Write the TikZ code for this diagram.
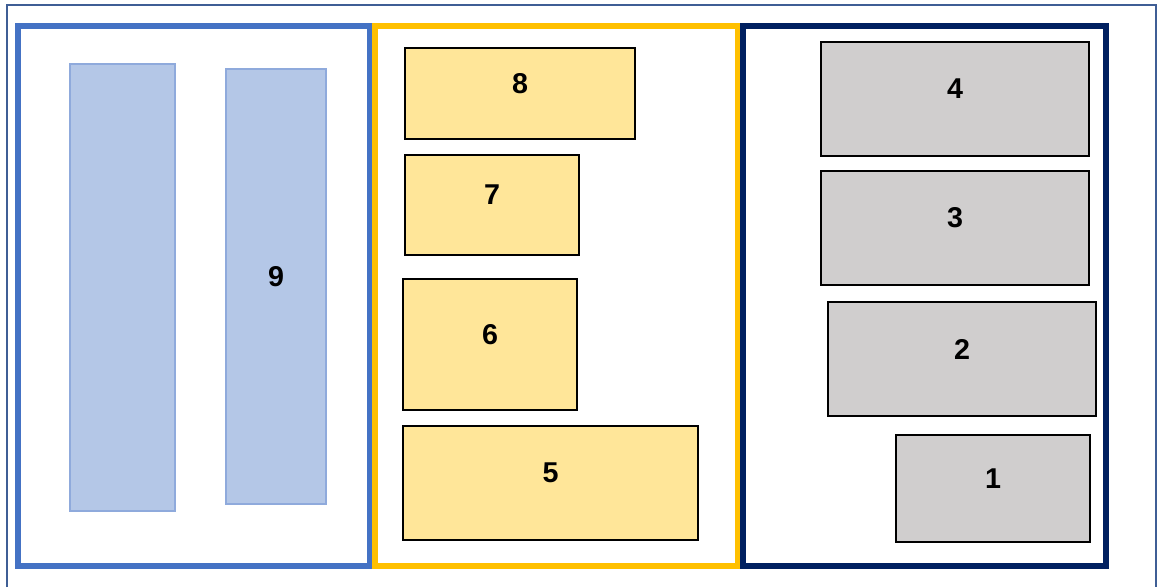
\documentclass[tikz,border=0pt]{standalone}
\usepackage{fontspec}
\setmainfont{Liberation Sans}
\usetikzlibrary{fit}
\definecolor{framecol}{HTML}{3F5E95}
\definecolor{bluecol}{HTML}{4472C4}
\definecolor{goldcol}{HTML}{FFC000}
\definecolor{navycol}{HTML}{002060}
\definecolor{barfill}{HTML}{B4C7E7}
\definecolor{barline}{HTML}{8FAADC}
\definecolor{goldfill}{HTML}{FFE699}
\definecolor{greyfill}{HTML}{D0CECE}

\begin{document}
\begin{tikzpicture}[
    x=0.75pt,y=-0.75pt,
    panel/.style={draw,line width=4.5pt,inner sep=0pt},
    bar/.style={draw=barline,fill=barfill,line width=1.5pt,inner sep=0pt},
    gbox/.style={draw=black,fill=goldfill,line width=1.5pt,inner sep=0pt},
    sbox/.style={draw=black,fill=greyfill,line width=1.5pt,inner sep=0pt},
    num/.style={font=\fontsize{21.5}{26}\selectfont\bfseries,inner sep=0pt}
  ]
    \useasboundingbox (0,0) rectangle (1157,587);
    \draw[framecol,line width=1.5pt] (7,587) |- (1156,5) -- (1156,587);

    % three panels
    \node[panel,draw=bluecol,fit={(18,26) (369.5,566)}] (P1) {};
    \node[panel,draw=goldcol,fit={(375,26) (737.5,566)}] (P2) {};
    \node[panel,draw=navycol,fit={(743,26) (1106,566)}] (P3) {};

    % left panel
    \node[bar,fit={(70,64) (175,511)}] (B10) {};
    \node[bar,fit={(226,69) (326,504)}] (B9) {};
    \node[num] (L9) at ([yshift=7.5pt]B9.center) {9};

    % middle panel
    \node[gbox,fit={(405,48) (635,139)}] (B8) {};
    \node[gbox,fit={(405,155) (579,255)}] (B7) {};
    \node[gbox,fit={(403,279) (577,410)}] (B6) {};
    \node[gbox,fit={(403,426) (698,540)}] (B5) {};
    \foreach \n in {8,7,6,5}
      \node[num] (L\n) at ([yshift=7.5pt]B\n.center) {\n};

    % right panel
    \node[sbox,fit={(821,42) (1089,156)}] (B4) {};
    \node[sbox,fit={(821,171) (1089,285)}] (B3) {};
    \node[sbox,fit={(828,302) (1096,416)}] (B2) {};
    \node[sbox,fit={(896,435) (1090,542)}] (B1) {};
    \foreach \n in {4,3,2,1}
      \node[num] (L\n) at ([yshift=7.5pt]B\n.center) {\n};
\end{tikzpicture}
\end{document}
